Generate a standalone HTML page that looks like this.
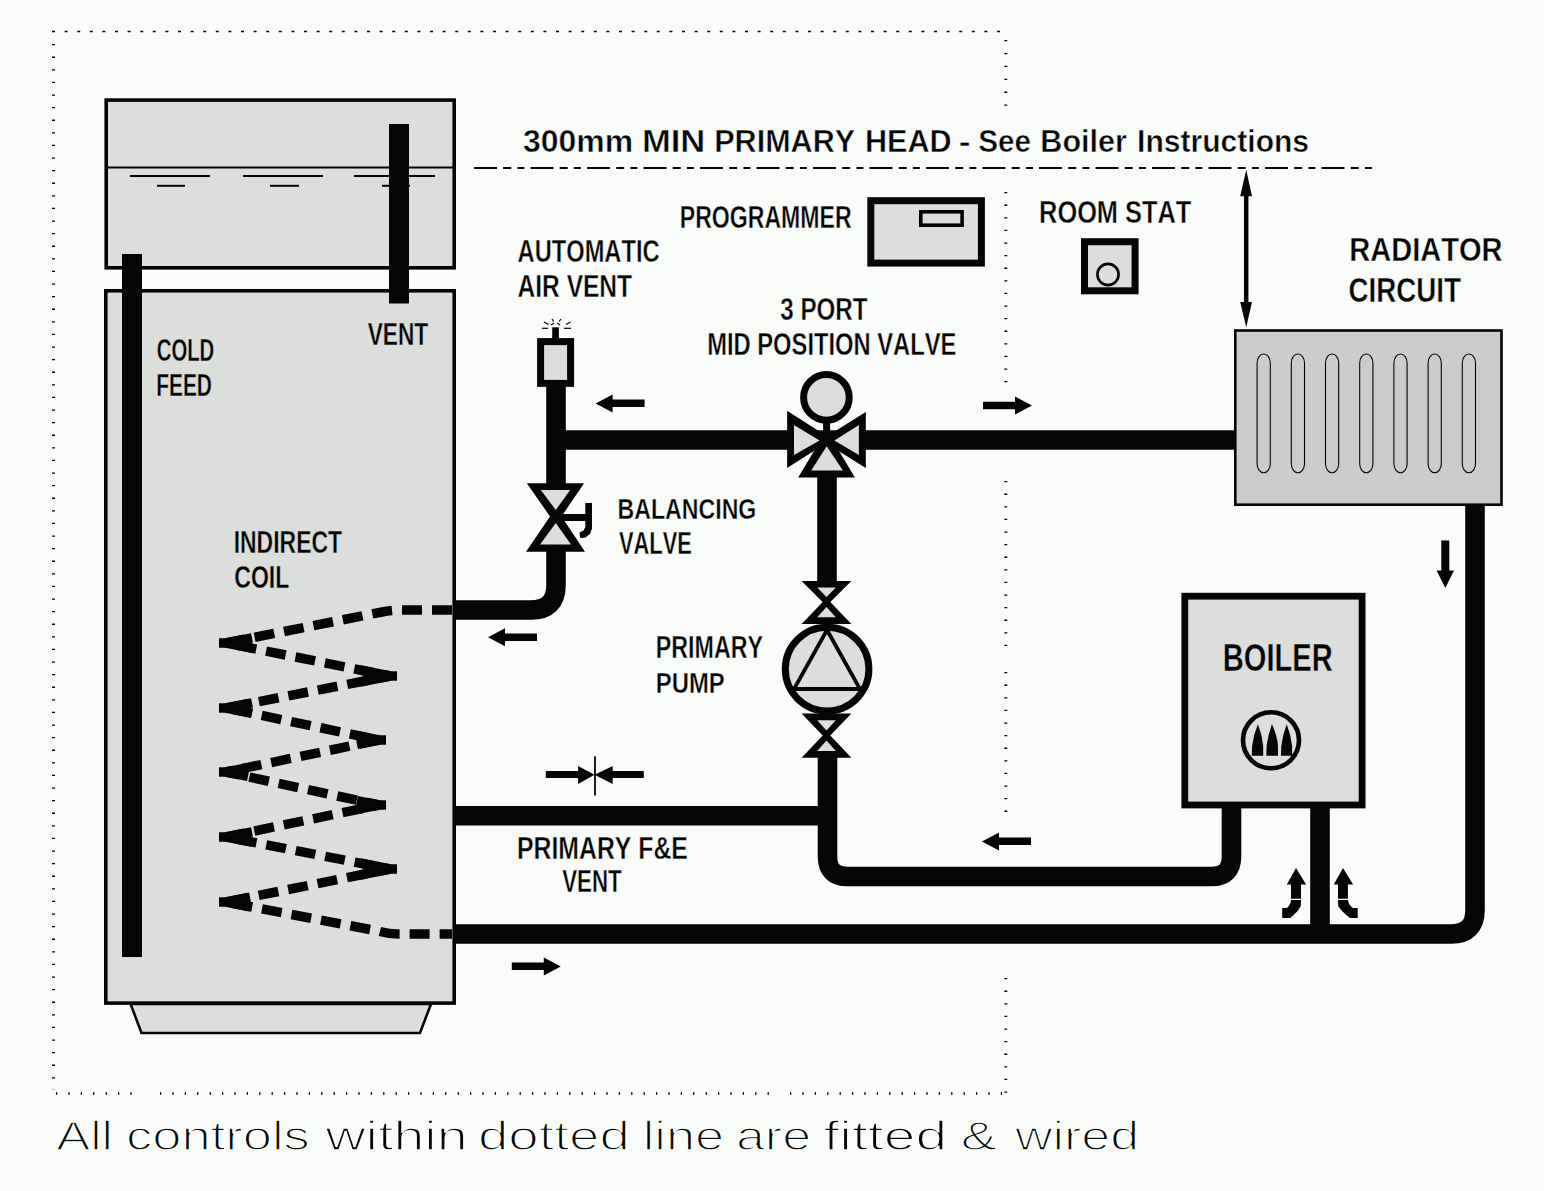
<!DOCTYPE html>
<html><head><meta charset="utf-8"><style>
html,body{margin:0;padding:0;background:#fafcf9;overflow:hidden}
svg{display:block}
</style></head><body>
<svg width="1544" height="1191" viewBox="0 0 1544 1191">
<rect x="0" y="0" width="1544" height="1191" fill="#fafcf9"/>
<line x1="52" y1="31.5" x2="1004" y2="31.5" stroke="#050505" stroke-width="1.3" stroke-dasharray="3 9.6"/>
<line x1="53.5" y1="44" x2="53.5" y2="1090" stroke="#050505" stroke-width="3" stroke-dasharray="1.3 11.3"/>
<line x1="1005.8" y1="40" x2="1005.8" y2="106" stroke="#050505" stroke-width="3" stroke-dasharray="1.3 11.6"/>
<line x1="1005.8" y1="192" x2="1005.8" y2="383" stroke="#050505" stroke-width="3" stroke-dasharray="1.3 11.3"/>
<line x1="1005.8" y1="481" x2="1005.8" y2="650" stroke="#050505" stroke-width="3" stroke-dasharray="1.3 11.3"/>
<line x1="1005.8" y1="672" x2="1005.8" y2="812" stroke="#050505" stroke-width="3" stroke-dasharray="1.3 11.3"/>
<line x1="1005.8" y1="978" x2="1005.8" y2="1095" stroke="#050505" stroke-width="3" stroke-dasharray="1.3 11.3"/>
<line x1="56" y1="1093.5" x2="140" y2="1093.5" stroke="#050505" stroke-width="3" stroke-dasharray="1.2 11.2"/>
<line x1="160" y1="1093.5" x2="770" y2="1093.5" stroke="#050505" stroke-width="3" stroke-dasharray="1.2 11.2"/>
<line x1="790" y1="1093.5" x2="1006" y2="1093.5" stroke="#050505" stroke-width="3" stroke-dasharray="1.2 11.2"/>
<line x1="474" y1="168" x2="1374" y2="168" stroke="#050505" stroke-width="2.2" stroke-dasharray="23 6.2 8 6.2 7 6.1"/>
<rect x="106.2" y="100.1" width="348" height="167.7" fill="#dcdedb" stroke="#050505" stroke-width="3.6"/>
<line x1="106" y1="167.4" x2="454" y2="167.4" stroke="#050505" stroke-width="2"/>
<line x1="130" y1="176" x2="210" y2="176" stroke="#050505" stroke-width="2"/>
<line x1="157" y1="185.8" x2="185" y2="185.8" stroke="#050505" stroke-width="2"/>
<line x1="243" y1="176" x2="323" y2="176" stroke="#050505" stroke-width="2"/>
<line x1="270" y1="185.8" x2="299" y2="185.8" stroke="#050505" stroke-width="2"/>
<line x1="354" y1="176" x2="435" y2="176" stroke="#050505" stroke-width="2"/>
<line x1="382" y1="185.8" x2="410" y2="185.8" stroke="#050505" stroke-width="2"/>
<polygon points="130.6,1004 431,1004 420,1033 141.5,1033" fill="#dcdedb" stroke="#050505" stroke-width="2.6"/>
<rect x="105.8" y="290.8" width="348.4" height="712.3" fill="#dcdedb" stroke="#050505" stroke-width="3.6"/>
<rect x="389" y="124" width="20" height="179.5" fill="#050505"/>
<rect x="122" y="254" width="20" height="703" fill="#050505"/>
<path d="M452,610 L402,610 Q392,610 382,612 L226,643 L390,676 L226,708 L379,740 L226,772 L379,805 L226,837 L390,869 L226,902 L378,931 Q388,934 398,934 L452,934" fill="none" stroke="#050505" stroke-width="9.5" stroke-dasharray="20 10" stroke-linejoin="bevel"/>
<polyline points="252,637.8 226,643 252,648.2" fill="none" stroke="#050505" stroke-width="9.5" stroke-linejoin="bevel"/>
<line x1="219" y1="643" x2="238" y2="643" stroke="#050505" stroke-width="9.5"/>
<polyline points="252,702.8 226,708 252,713.2" fill="none" stroke="#050505" stroke-width="9.5" stroke-linejoin="bevel"/>
<line x1="219" y1="708" x2="238" y2="708" stroke="#050505" stroke-width="9.5"/>
<polyline points="248,767.6 226,772 248,776.4" fill="none" stroke="#050505" stroke-width="9.5" stroke-linejoin="bevel"/>
<line x1="219" y1="772" x2="238" y2="772" stroke="#050505" stroke-width="9.5"/>
<polyline points="252,831.8 226,837 252,842.2" fill="none" stroke="#050505" stroke-width="9.5" stroke-linejoin="bevel"/>
<line x1="219" y1="837" x2="238" y2="837" stroke="#050505" stroke-width="9.5"/>
<polyline points="250,897.2 226,902 250,906.8" fill="none" stroke="#050505" stroke-width="9.5" stroke-linejoin="bevel"/>
<line x1="219" y1="902" x2="238" y2="902" stroke="#050505" stroke-width="9.5"/>
<polyline points="360,670.0 390,676 360,682.0" fill="none" stroke="#050505" stroke-width="9.5" stroke-linejoin="bevel"/>
<line x1="397" y1="676" x2="378" y2="676" stroke="#050505" stroke-width="9.5"/>
<polyline points="357,735.6 379,740 357,744.4" fill="none" stroke="#050505" stroke-width="9.5" stroke-linejoin="bevel"/>
<line x1="386" y1="740" x2="367" y2="740" stroke="#050505" stroke-width="9.5"/>
<polyline points="357,800.6 379,805 357,809.4" fill="none" stroke="#050505" stroke-width="9.5" stroke-linejoin="bevel"/>
<line x1="386" y1="805" x2="367" y2="805" stroke="#050505" stroke-width="9.5"/>
<polyline points="360,863.0 390,869 360,875.0" fill="none" stroke="#050505" stroke-width="9.5" stroke-linejoin="bevel"/>
<line x1="397" y1="869" x2="378" y2="869" stroke="#050505" stroke-width="9.5"/>
<path d="M556,386 L556,486" fill="none" stroke="#050505" stroke-width="19.6" stroke-linejoin="miter"/>
<path d="M556,549 L556,585 Q556,610 531,610 L454,610" fill="none" stroke="#050505" stroke-width="19.6" stroke-linejoin="miter"/>
<path d="M556,440 L1236,440" fill="none" stroke="#050505" stroke-width="19.6" stroke-linejoin="miter"/>
<path d="M827,470 L827,583" fill="none" stroke="#050505" stroke-width="19.6" stroke-linejoin="miter"/>
<path d="M827.5,755 L827.5,856.5 Q827.5,876.5 847.5,876.5 L1211.5,876.5 Q1231.5,876.5 1231.5,856.5 L1231.5,806" fill="none" stroke="#050505" stroke-width="19.6" stroke-linejoin="miter"/>
<path d="M454,815.7 L837,815.7" fill="none" stroke="#050505" stroke-width="19.6" stroke-linejoin="miter"/>
<path d="M454,934 L1451,934 Q1475,934 1475,910 L1475,503" fill="none" stroke="#050505" stroke-width="19.6" stroke-linejoin="miter"/>
<path d="M1320,806 L1320,934" fill="none" stroke="#050505" stroke-width="19.6" stroke-linejoin="miter"/>
<rect x="540.6" y="341.6" width="30" height="41.8" fill="#dcdedb" stroke="#050505" stroke-width="7"/>
<rect x="552.2" y="327.3" width="6.7" height="12" fill="#050505"/>
<line x1="542" y1="328.3" x2="548" y2="328.3" stroke="#050505" stroke-width="1.2"/>
<line x1="564" y1="328.3" x2="571" y2="328.3" stroke="#050505" stroke-width="1.2"/>
<line x1="544" y1="322" x2="548.5" y2="324.5" stroke="#050505" stroke-width="1.2"/>
<line x1="566" y1="324.5" x2="570.5" y2="322" stroke="#050505" stroke-width="1.2"/>
<line x1="552" y1="319" x2="553.5" y2="321.5" stroke="#050505" stroke-width="1.2"/>
<line x1="559" y1="321.5" x2="561" y2="319" stroke="#050505" stroke-width="1.2"/>
<line x1="551" y1="325" x2="554" y2="323" stroke="#050505" stroke-width="1.2"/>
<line x1="557" y1="323" x2="560" y2="325" stroke="#050505" stroke-width="1.2"/>
<polygon points="526.8,483.2 584.1,483.2 561.5,516.4 585,551.7 526,551.7 550,516.4" fill="#050505"/>
<polygon points="540.8,490 570.1,490 555.8,510" fill="#dcdedb"/>
<polygon points="540,544.6 571,544.6 555.8,523" fill="#dcdedb"/>
<rect x="556" y="514" width="36" height="7" fill="#050505"/>
<polygon points="585.3,503 592,503 592,528.5 590,534 585.5,537.5 580,538 579.5,532.5 583.5,530.5 585.3,527" fill="#050505"/>
<rect x="823.1" y="418" width="7" height="24" fill="#050505"/>
<circle cx="826.4" cy="397.4" r="22.8" fill="#dcdedb" stroke="#050505" stroke-width="7"/>
<polygon points="787.1,410.7 787.1,468 832,439.5" fill="#050505"/>
<polygon points="865.8,412 865.8,468 821,440" fill="#050505"/>
<polygon points="798.2,477.6 854.9,477.6 826.6,430" fill="#050505"/>
<polygon points="794,425 794,455 819.6,440.4" fill="#dcdedb"/>
<polygon points="858.9,425 858.9,455 834.4,440.4" fill="#dcdedb"/>
<polygon points="811.2,470.5 842.9,470.5 826.7,446.2" fill="#dcdedb"/>
<polygon points="801.6,580.9 851.4,580.9 830.3,602 851.4,624 801.6,624 822.7,602" fill="#050505"/>
<polygon points="817.2,587.6 835.8,587.6 826.5,597" fill="#dcdedb"/>
<polygon points="817.2,617.3 835.8,617.3 826.5,607" fill="#dcdedb"/>
<polygon points="801.6,713.6 851.4,713.6 830.3,735.4 851.4,757.7 801.6,757.7 822.7,735.4" fill="#050505"/>
<polygon points="817.2,720.3000000000001 835.8,720.3000000000001 826.5,730.4" fill="#dcdedb"/>
<polygon points="817.2,751.0 835.8,751.0 826.5,740.4" fill="#dcdedb"/>
<circle cx="827.1" cy="669.1" r="41.8" fill="#dcdedb" stroke="#050505" stroke-width="7"/>
<path d="M827,630 L794,689 L860,689 Z" fill="none" stroke="#050505" stroke-width="3.8" stroke-linejoin="miter"/>
<line x1="788" y1="689" x2="866" y2="689" stroke="#050505" stroke-width="4"/>
<rect x="870.8" y="200.7" width="110.6" height="62.4" fill="#dcdedb" stroke="#050505" stroke-width="7"/>
<rect x="920.8" y="211.8" width="41.3" height="13.4" fill="#dcdedb" stroke="#050505" stroke-width="3.6"/>
<rect x="1084.5" y="241.7" width="50.6" height="49.1" fill="#dcdedb" stroke="#050505" stroke-width="7"/>
<circle cx="1108" cy="274.5" r="10.6" fill="none" stroke="#050505" stroke-width="2.6"/>
<line x1="1246.2" y1="190" x2="1246.2" y2="308" stroke="#050505" stroke-width="4.5"/>
<polygon points="1246.2,169.8 1252,196.3 1240.2,196.3" fill="#050505"/>
<polygon points="1246.2,327.3 1252,302 1240.2,302" fill="#050505"/>
<rect x="1235.3" y="330.5" width="266.2" height="174.2" fill="#cdcbce" stroke="#050505" stroke-width="2.6"/>
<rect x="1257.1" y="354" width="13.2" height="118.7" rx="6.6" ry="9" fill="none" stroke="#050505" stroke-width="1.1"/>
<rect x="1291.3" y="354" width="13.2" height="118.7" rx="6.6" ry="9" fill="none" stroke="#050505" stroke-width="1.1"/>
<rect x="1325.5" y="354" width="13.2" height="118.7" rx="6.6" ry="9" fill="none" stroke="#050505" stroke-width="1.1"/>
<rect x="1359.7" y="354" width="13.2" height="118.7" rx="6.6" ry="9" fill="none" stroke="#050505" stroke-width="1.1"/>
<rect x="1393.9" y="354" width="13.2" height="118.7" rx="6.6" ry="9" fill="none" stroke="#050505" stroke-width="1.1"/>
<rect x="1428.1" y="354" width="13.2" height="118.7" rx="6.6" ry="9" fill="none" stroke="#050505" stroke-width="1.1"/>
<rect x="1462.3" y="354" width="13.2" height="118.7" rx="6.6" ry="9" fill="none" stroke="#050505" stroke-width="1.1"/>
<rect x="1184.8" y="596.2" width="177.3" height="208.8" fill="#dcdedb" stroke="#050505" stroke-width="6.8"/>
<circle cx="1271" cy="740.3" r="28" fill="none" stroke="#050505" stroke-width="4.6"/>
<path d="M1251.8,755.7 L1252.1,746 Q1253.3,735 1257.9,724.2 Q1262.2,735 1263.2,746 L1263.2,755.7 Z" fill="#050505"/>
<path d="M1266.3,755.7 L1266.6,746 Q1267.8,735 1272,724.2 Q1277,735 1278,746 L1278,755.7 Z" fill="#050505"/>
<path d="M1281,755.7 L1281.3,746 Q1282.5,735 1286.7,724.2 Q1291.1,735 1292.1,746 L1292.1,755.7 Z" fill="#050505"/>
<polygon points="595.6,403.4 612.6,394.4 612.6,399.6 644.6,399.6 644.6,407.1 612.6,407.1 612.6,412.4" fill="#050505"/>
<polygon points="1032.0,405.5 1015.0,396.5 1015.0,401.8 983.0,401.8 983.0,409.2 1015.0,409.2 1015.0,414.5" fill="#050505"/>
<polygon points="488.0,637.2 505.0,628.2 505.0,633.5 537.0,633.5 537.0,641.0 505.0,641.0 505.0,646.2" fill="#050505"/>
<polygon points="560.8,966.4 543.8,957.4 543.8,962.6 511.8,962.6 511.8,970.1 543.8,970.1 543.8,975.4" fill="#050505"/>
<polygon points="982.0,841.4 999.0,832.4 999.0,837.6 1031.0,837.6 1031.0,845.1 999.0,845.1 999.0,850.4" fill="#050505"/>
<polygon points="1445.3,588 1436.6,570.6 1441.3,570.6 1441.3,540.4 1449.3,540.4 1449.3,570.6 1454,570.6" fill="#050505"/>
<polygon points="594.5,774.8 578.1,766 578.1,771 545.8,771 545.8,778 578.1,778 578.1,783.9" fill="#050505"/>
<polygon points="594.5,774.8 612.7,766 612.7,771 643.8,771 643.8,778 612.7,778 612.7,783.9" fill="#050505"/>
<line x1="595" y1="756.2" x2="595" y2="795.5" stroke="#050505" stroke-width="1.8"/>
<path d="M1296,868 L1306.1,884.6 L1301,884.6 L1301,898.7 L1291,898.7 L1291,884.6 L1286.8,884.6 Z" fill="#050505"/>
<path d="M1291,900 L1301,900 L1300.8,906 Q1298,912 1290,918 L1282.2,918 L1282.2,908 L1287,908 Q1291,904 1291,900 Z" fill="#050505"/>
<path d="M1343,868 L1353.1,884.6 L1347.9,884.6 L1347.9,898.7 L1338,898.7 L1338,884.6 L1333.8,884.6 Z" fill="#050505"/>
<path d="M1338,900 L1348,900 Q1348,904 1352.8,908 L1357.7,908 L1357.7,918 L1350,918 Q1342,912 1338.2,906 Z" fill="#050505"/>
<g fill="#050505" style="font-family:'Liberation Sans',sans-serif;font-kerning:none">
<text transform="translate(523.02,152.05) scale(1.0092,1)" font-size="31.69" font-weight="bold" stroke="#fafcf9" stroke-width="0.5" >300mm</text>
<text transform="translate(641.93,152.05) scale(1.0924,1)" font-size="31.69" font-weight="bold" stroke="#fafcf9" stroke-width="0.5" >MIN</text>
<text transform="translate(714.21,152.05) scale(0.9646,1)" font-size="31.69" font-weight="bold" stroke="#fafcf9" stroke-width="0.5" >PRIMARY</text>
<text transform="translate(865.00,152.05) scale(0.9660,1)" font-size="31.69" font-weight="bold" stroke="#fafcf9" stroke-width="0.5" >HEAD</text>
<text transform="translate(958.87,152.05) scale(1.1187,1)" font-size="31.69" font-weight="bold" stroke="#fafcf9" stroke-width="0.5" >-</text>
<text transform="translate(978.30,152.05) scale(0.9341,1)" font-size="31.69" font-weight="bold" stroke="#fafcf9" stroke-width="0.5" >See</text>
<text transform="translate(1040.30,152.05) scale(0.9656,1)" font-size="31.69" font-weight="bold" stroke="#fafcf9" stroke-width="0.5" >Boiler</text>
<text transform="translate(1137.04,152.05) scale(0.9494,1)" font-size="31.69" font-weight="bold" stroke="#fafcf9" stroke-width="0.5" >Instructions</text>
<text transform="translate(367.64,345.00) scale(0.7192,1)" font-size="31.54" font-weight="bold" stroke="#dcdedb" stroke-width="0.4" >VENT</text>
<text transform="translate(156.77,360.50) scale(0.6288,1)" font-size="32.27" font-weight="bold" stroke="#dcdedb" stroke-width="0.4" >COLD</text>
<text transform="translate(156.20,396.40) scale(0.6481,1)" font-size="32.27" font-weight="bold" stroke="#dcdedb" stroke-width="0.4" >FEED</text>
<text transform="translate(517.61,261.50) scale(0.7507,1)" font-size="31.54" font-weight="bold" stroke="#fafcf9" stroke-width="0.4" >AUTOMATIC</text>
<text transform="translate(517.59,296.50) scale(0.7998,1)" font-size="30.67" font-weight="bold" stroke="#fafcf9" stroke-width="0.4" >AIR VENT</text>
<text transform="translate(679.76,227.70) scale(0.7322,1)" font-size="31.54" font-weight="bold" stroke="#fafcf9" stroke-width="0.4" >PROGRAMMER</text>
<text transform="translate(1039.10,222.60) scale(0.8193,1)" font-size="30.96" font-weight="bold" stroke="#fafcf9" stroke-width="0.4" >ROOM STAT</text>
<text transform="translate(1349.36,260.60) scale(0.8574,1)" font-size="33.87" font-weight="bold" stroke="#fafcf9" stroke-width="0.4" >RADIATOR</text>
<text transform="translate(1348.46,302.20) scale(0.7825,1)" font-size="35.47" font-weight="bold" stroke="#fafcf9" stroke-width="0.4" >CIRCUIT</text>
<text transform="translate(780.25,319.90) scale(0.7873,1)" font-size="30.67" font-weight="bold" stroke="#fafcf9" stroke-width="0.4" >3 PORT</text>
<text transform="translate(707.21,354.90) scale(0.7456,1)" font-size="31.83" font-weight="bold" stroke="#fafcf9" stroke-width="0.4" >MID POSITION VALVE</text>
<text transform="translate(617.55,518.60) scale(0.7657,1)" font-size="30.23" font-weight="bold" stroke="#fafcf9" stroke-width="0.4" >BALANCING</text>
<text transform="translate(618.95,553.70) scale(0.7063,1)" font-size="30.96" font-weight="bold" stroke="#fafcf9" stroke-width="0.4" >VALVE</text>
<text transform="translate(233.66,553.20) scale(0.7178,1)" font-size="31.98" font-weight="bold" stroke="#dcdedb" stroke-width="0.4" >INDIRECT</text>
<text transform="translate(234.25,587.90) scale(0.7529,1)" font-size="30.67" font-weight="bold" stroke="#dcdedb" stroke-width="0.4" >COIL</text>
<text transform="translate(655.85,658.20) scale(0.7332,1)" font-size="31.69" font-weight="bold" stroke="#fafcf9" stroke-width="0.4" >PRIMARY</text>
<text transform="translate(655.80,692.80) scale(0.8005,1)" font-size="29.80" font-weight="bold" stroke="#fafcf9" stroke-width="0.4" >PUMP</text>
<text transform="translate(517.04,859.10) scale(0.7795,1)" font-size="31.83" font-weight="bold" stroke="#fafcf9" stroke-width="0.4" >PRIMARY F&amp;E</text>
<text transform="translate(562.25,892.00) scale(0.7105,1)" font-size="31.40" font-weight="bold" stroke="#fafcf9" stroke-width="0.4" >VENT</text>
<text transform="translate(1222.85,671.00) scale(0.7642,1)" font-size="38.08" font-weight="bold" stroke="#dcdedb" stroke-width="0.4" >BOILER</text>
<text transform="translate(56.25,1150.25) scale(1.2319,1)" font-size="41.42" font-weight="normal" stroke="#fafcf9" stroke-width="1.5" >All</text>
<text transform="translate(126.12,1150.25) scale(1.2667,1)" font-size="41.42" font-weight="normal" stroke="#fafcf9" stroke-width="1.5" >controls</text>
<text transform="translate(325.43,1150.25) scale(1.3430,1)" font-size="41.42" font-weight="normal" stroke="#fafcf9" stroke-width="1.5" >within</text>
<text transform="translate(477.96,1150.25) scale(1.3190,1)" font-size="41.42" font-weight="normal" stroke="#fafcf9" stroke-width="1.5" >dotted</text>
<text transform="translate(642.72,1150.25) scale(1.2631,1)" font-size="41.42" font-weight="normal" stroke="#fafcf9" stroke-width="1.5" >line</text>
<text transform="translate(735.94,1150.25) scale(1.2546,1)" font-size="41.42" font-weight="normal" stroke="#fafcf9" stroke-width="1.5" >are</text>
<text transform="translate(823.54,1150.25) scale(1.3761,1)" font-size="41.42" font-weight="normal" stroke="#fafcf9" stroke-width="1.5" >fitted</text>
<text transform="translate(960.63,1150.25) scale(1.3163,1)" font-size="41.42" font-weight="normal" stroke="#fafcf9" stroke-width="1.5" >&amp;</text>
<text transform="translate(1015.03,1150.25) scale(1.2534,1)" font-size="41.42" font-weight="normal" stroke="#fafcf9" stroke-width="1.5" >wired</text>
</g>
</svg>
</body></html>
